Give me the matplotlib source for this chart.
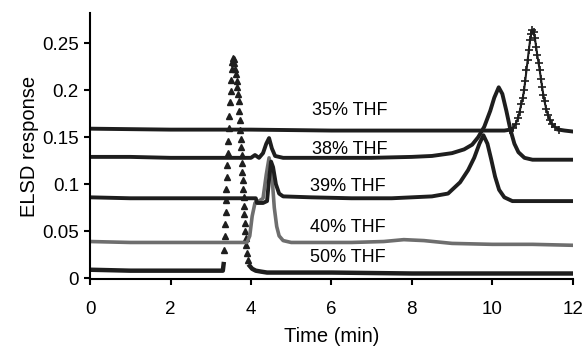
import matplotlib
matplotlib.use('Agg')
import matplotlib.pyplot as plt
import numpy as np

plt.rcParams['font.family'] = ['Liberation Sans', 'DejaVu Sans']

# 35% THF
t35 = [0, 2, 4, 6, 8, 10, 10.3, 10.45, 10.52, 10.58, 10.64, 10.68, 10.72, 10.76, 10.79, 10.82, 10.85,
       10.88, 10.91, 10.94, 10.97, 11.0, 11.03, 11.06, 11.09, 11.12, 11.15, 11.18, 11.21, 11.24, 11.27,
       11.30, 11.34, 11.38, 11.43, 11.48, 11.55, 11.65, 11.8, 12.0]
y35 = [0.159, 0.158, 0.158, 0.157, 0.157, 0.157, 0.157, 0.158, 0.160, 0.164, 0.170, 0.177, 0.185, 0.192, 0.200, 0.210, 0.221,
       0.232, 0.243, 0.253, 0.260, 0.264, 0.262, 0.255, 0.246, 0.237, 0.229, 0.221, 0.212, 0.203, 0.195,
       0.188, 0.180, 0.174, 0.168, 0.164, 0.161, 0.158, 0.157, 0.156]

# 38% THF
t38 = [0, 1, 2, 3, 4.0, 4.1, 4.2, 4.3, 4.38, 4.45, 4.52, 4.6, 4.8, 6, 7, 8, 8.5, 9.0, 9.3, 9.5,
       9.65, 9.8, 9.95, 10.05, 10.16, 10.25, 10.35, 10.45, 10.55, 10.65, 10.8, 11.0, 11.5, 12.0]
y38 = [0.129, 0.129, 0.128, 0.128, 0.128, 0.131, 0.128, 0.133, 0.143, 0.149, 0.138, 0.130, 0.128, 0.128, 0.128, 0.129, 0.130, 0.133, 0.137, 0.142,
       0.150, 0.161, 0.178, 0.192, 0.203, 0.196, 0.178, 0.158, 0.143, 0.134, 0.128, 0.126, 0.126, 0.126]

# 39% THF
t39 = [0, 1, 2, 3, 4.0, 4.12, 4.15, 4.3, 4.4, 4.45, 4.5, 4.55, 4.62, 4.7, 4.8, 5.5, 6.5, 7.5,
       8.0, 8.5, 8.9, 9.2, 9.4, 9.55, 9.68, 9.78, 9.88, 9.97, 10.07, 10.17, 10.3, 10.5, 10.8, 11.5, 12.0]
y39 = [0.086, 0.085, 0.085, 0.085, 0.085, 0.085, 0.080, 0.080, 0.082, 0.105, 0.124, 0.118, 0.100, 0.090, 0.087, 0.086, 0.085, 0.085,
       0.086, 0.087, 0.090, 0.102, 0.115, 0.128, 0.143, 0.152, 0.143, 0.127, 0.108, 0.094, 0.086, 0.082, 0.082, 0.082, 0.082]

# 40% THF
t40 = [0, 1, 2, 3, 3.9, 3.97, 4.03, 4.1, 4.2, 4.3, 4.38, 4.45, 4.52, 4.58, 4.64, 4.7, 4.8, 5.0,
       5.5, 6.5, 7.3, 7.8, 8.3, 9.0, 10, 11, 12]
y40 = [0.039, 0.038, 0.038, 0.038, 0.038, 0.045, 0.066, 0.080, 0.082, 0.085, 0.110, 0.128, 0.110, 0.075, 0.055, 0.045, 0.040, 0.038,
       0.038, 0.038, 0.039, 0.041, 0.040, 0.037, 0.036, 0.036, 0.035]

# 50% THF
t50 = [0, 1, 2, 3, 3.30, 3.32, 3.335, 3.35, 3.36, 3.37, 3.38, 3.39, 3.40, 3.41, 3.42, 3.435, 3.45,
       3.465, 3.48, 3.495, 3.51, 3.525, 3.54, 3.555, 3.575, 3.59, 3.61, 3.63, 3.65, 3.665, 3.68, 3.695,
       3.71, 3.72, 3.735, 3.745, 3.755, 3.765, 3.775, 3.785, 3.795, 3.805, 3.815, 3.825, 3.835, 3.845,
       3.855, 3.865, 3.88, 3.90, 3.93, 3.97, 4.03, 4.12, 4.25, 4.4, 6, 8, 10, 12]
y50 = [0.009, 0.008, 0.008, 0.008, 0.008, 0.015, 0.030, 0.045, 0.058, 0.070, 0.083, 0.095, 0.108, 0.120, 0.133, 0.146, 0.160,
       0.173, 0.187, 0.199, 0.211, 0.222, 0.230, 0.234, 0.233, 0.229, 0.223, 0.217, 0.210, 0.203, 0.196, 0.188,
       0.178, 0.168, 0.158, 0.148, 0.140, 0.131, 0.122, 0.113, 0.104, 0.095, 0.086, 0.077, 0.068, 0.059,
       0.050, 0.043, 0.035, 0.027, 0.019, 0.013, 0.010, 0.008, 0.007, 0.006, 0.006, 0.005, 0.005, 0.005]

labels = ['35% THF', '38% THF', '39% THF', '40% THF', '50% THF']
label_x = [6.45, 6.45, 6.4, 6.4, 6.4]
label_y = [0.178, 0.1365, 0.097, 0.0535, 0.0215]

fig = plt.figure(figsize=(5.85, 3.52), dpi=100)
ax = fig.add_axes([0.154, 0.207, 0.825, 0.756])

dark = '#1e1e1e'

# 50% THF: heavy baseline, peak shown only as triangles
t = np.array(t50)
y = np.array(y50)
base = (t <= 3.32) | (t >= 3.97)
ax.plot(t, np.ma.masked_where(~base, y), color=dark, lw=3.2)
ax.plot(t[~base], y[~base], ls='none', marker='^', ms=4, color=dark)

ax.plot(t40, y40, color='#6e6e6e', lw=2.6)
ax.plot(t39, y39, color=dark, lw=2.8)
ax.plot(t38, y38, color=dark, lw=2.8)

# 35% THF: heavy baseline, thinner line with crosses over the peak
t = np.array(t35)
y = np.array(y35)
peak = (t >= 10.45) & (t <= 11.65)
inner = (t > 10.5) & (t < 11.6)
ax.plot(t, np.ma.masked_where(inner, y), color=dark, lw=2.8)
ax.plot(t[peak], y[peak], color=dark, lw=1.5, marker='+', ms=5.5, mew=1.2)

for lab, x, yy in zip(labels, label_x, label_y):
    ax.text(x, yy, lab, fontsize=13, ha='center', va='center')

ax.set_xlim(0, 12)
ax.set_ylim(-0.001, 0.282)
ax.set_xticks([0, 2, 4, 6, 8, 10, 12])
ax.set_yticks([0, 0.05, 0.1, 0.15, 0.2, 0.25])
ax.set_yticklabels(['0', '0.05', '0.1', '0.15', '0.2', '0.25'])
ax.spines['top'].set_visible(False)
ax.spines['right'].set_visible(False)
ax.spines['left'].set_linewidth(1.5)
ax.spines['bottom'].set_linewidth(1.5)
ax.tick_params(axis='both', direction='out', length=4.5, width=1.5, labelsize=13.5)
ax.tick_params(axis='x', pad=11)
ax.set_xlabel('Time (min)', fontsize=14.5, labelpad=7)
ax.set_ylabel('ELSD response', fontsize=14.5, labelpad=2)

fig.savefig('out.png', dpi=100)
